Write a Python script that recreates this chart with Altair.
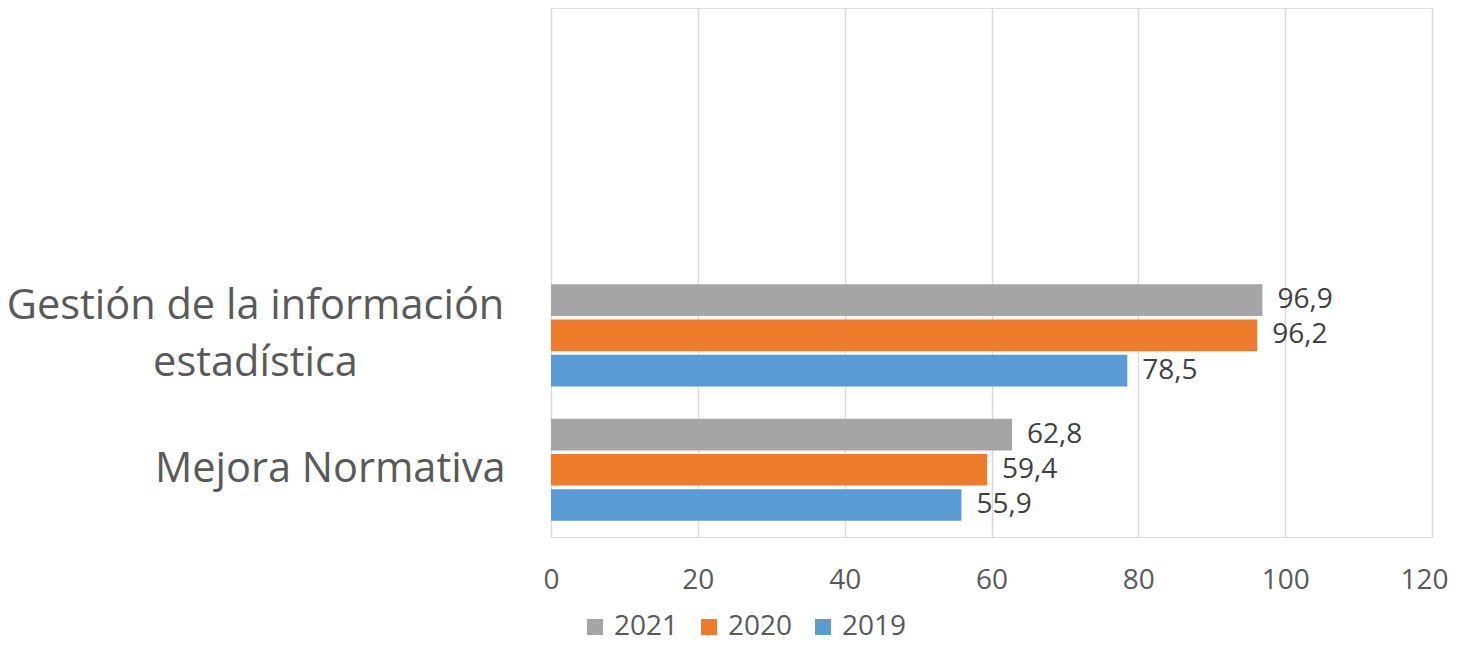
import altair as alt
import pandas as pd

categories = ["Gestión de la información estadística", "Mejora Normativa"]
years = ["2021", "2020", "2019"]
values_2021 = [96.9, 62.8]
values_2020 = [96.2, 59.4]
values_2019 = [78.5, 55.9]
x_ticks = [0, 20, 40, 60, 80, 100, 120]
colors = ["#a5a5a5", "#ef7b2d", "#5b9bd5"]

rows = []
for yr, vals in zip(years, [values_2021, values_2020, values_2019]):
    for c, v in zip(categories, vals):
        rows.append({"cat": c, "year": yr, "value": v,
                     "label": f"{v:.1f}".replace(".", ",")})
df = pd.DataFrame(rows)

y_domain = ["", " "] + categories
FONT = "Open Sans"
TXT = "#595959"
y_scale = alt.Scale(domain=y_domain, paddingInner=0.24, paddingOuter=0.087, align=0.31)
is_mejora = "datum.value == 'Mejora Normativa'"

y_enc = alt.Y(
    "cat:N",
    scale=y_scale,
    axis=alt.Axis(
        title=None, domain=False, ticks=False, grid=False,
        labelFont=FONT, labelFontSize=41.5, labelColor=TXT,
        labelLineHeight=57, labelLimit=0,
        labelExpr="datum.value == 'Gestión de la información estadística' ? ['Gestión de la información', 'estadística'] : datum.label",
        labelAlign={"condition": {"test": is_mejora, "value": "right"}, "value": "center"},
        labelPadding={"condition": {"test": is_mejora, "value": 46}, "value": 296},
        labelOffset={"condition": {"test": is_mejora, "value": 0}, "value": -28},
    ),
)
yoff = alt.YOffset("year:N", sort=years, scale=alt.Scale(paddingInner=0.1, paddingOuter=0))

x_enc = alt.X(
    "value:Q",
    scale=alt.Scale(domain=[0, 120], nice=False),
    axis=alt.Axis(
        title=None, values=x_ticks, domain=False, ticks=False,
        grid=True, gridColor="#d9d9d9", gridWidth=1.5,
        labelFont=FONT, labelFontSize=28, labelColor=TXT, labelPadding=29,
        labelFlush=False, labelBound=False,
        labelOffset={"condition": {"test": "datum.value == 120", "value": -8}, "value": 0},
    ),
)

bars = alt.Chart(df).mark_bar().encode(
    x=x_enc,
    y=y_enc,
    yOffset=yoff,
    color=alt.Color(
        "year:N",
        scale=alt.Scale(domain=years, range=colors),
        legend=alt.Legend(
            title=None, orient="none", direction="horizontal",
            legendX=30, legendY=605,
            symbolType="square", symbolSize=256, symbolStrokeWidth=0,
            labelFont=FONT, labelFontSize=28, labelColor=TXT,
            labelOffset=5, columnPadding=16,
        ),
    ),
)

labels = alt.Chart(df).mark_text(
    align="left", baseline="middle", dx=15,
    font=FONT, fontSize=28, color="#404040",
).encode(
    x="value:Q",
    y=alt.Y("cat:N", scale=y_scale),
    yOffset=yoff,
    text="label:N",
)

chart = alt.layer(bars, labels).properties(
    width=881, height=529,
    autosize=alt.AutoSizeParams(type="none"),
    padding={"left": 543, "top": 0, "right": 18, "bottom": 106},
).configure_view(stroke=None).configure(background="white")

chart.save("out.html", embed_options={"renderer": "svg", "actions": False})
